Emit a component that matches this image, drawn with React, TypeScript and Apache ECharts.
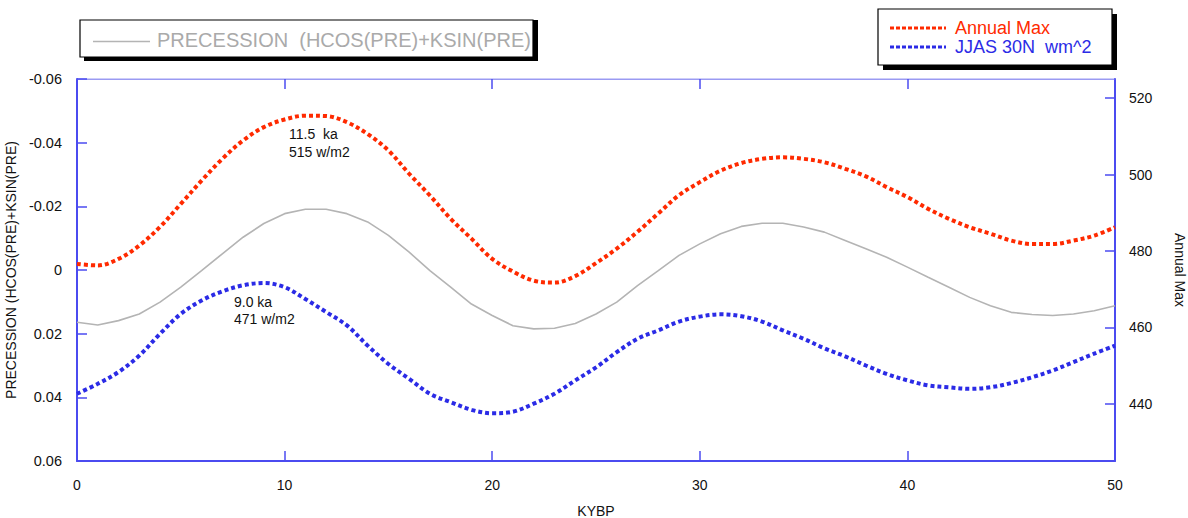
import React, { useEffect, useRef } from "react";
import * as echarts from "echarts";

const kybp = [
  0, 1, 2, 3, 4, 5, 6, 7, 8, 9, 10, 11, 12, 13, 14, 15, 16, 17, 18, 19, 20, 21, 22, 23, 24, 25,
  26, 27, 28, 29, 30, 31, 32, 33, 34, 35, 36, 37, 38, 39, 40, 41, 42, 43, 44, 45, 46, 47, 48, 49, 50,
];

const annualMax = [
  476.6, 476.2, 477.9, 481.4, 486.3, 492.3, 498.4, 504.1, 508.9, 512.4, 514.4, 515.4, 515.3, 513.7,
  510.6, 506.3, 500.2, 494.5, 488.4, 483.2, 477.9, 474.6, 472.2, 471.7, 473.4, 476.8, 480.6, 485.0,
  489.8, 494.6, 498.0, 501.0, 503.0, 504.1, 504.5, 504.1, 503.2, 501.5, 499.5, 496.7, 494.1, 491.0,
  488.4, 486.2, 484.5, 482.7, 481.8, 481.8, 482.7, 484.0, 486.2,
];

const jjas30N = [
  442.6, 445.2, 448.3, 452.6, 458.3, 463.5, 467.0, 469.4, 471.0, 471.6, 470.5, 467.4, 464.0, 460.5,
  455.2, 450.4, 446.5, 442.6, 440.4, 438.4, 437.5, 437.9, 440.0, 442.6, 446.1, 449.5, 453.5, 457.0,
  459.2, 461.5, 462.8, 463.4, 462.9, 461.5, 459.2, 457.0, 454.5, 452.4, 450.0, 447.8, 446.1, 444.8,
  444.3, 443.9, 444.3, 445.4, 446.9, 448.7, 450.9, 453.1, 455.2,
];

const precession = [
  0.0164, 0.0173, 0.0159, 0.0138, 0.0101, 0.0054, 0.0002, -0.0051, -0.0103, -0.0146, -0.0177,
  -0.0191, -0.0191, -0.0177, -0.0151, -0.0109, -0.0056, 0.0002, 0.0054, 0.0107, 0.0143, 0.0175,
  0.0185, 0.0183, 0.0168, 0.0138, 0.0101, 0.0049, 0.0002, -0.0046, -0.0082, -0.0114, -0.0137,
  -0.0147, -0.0147, -0.0135, -0.0119, -0.0093, -0.0067, -0.004, -0.0009, 0.0023, 0.0054, 0.0086,
  0.0112, 0.0133, 0.014, 0.0143, 0.0138, 0.0128, 0.0112,
];

const rightTicks = [440, 460, 480, 500, 520];

const RED = "#ff2a00";
const BLUE = "#2b2be6";
const GRAY = "#b4b4b4";
const AXIS = "#4b4bf0";
const FONT = "'Liberation Sans', Arial, Helvetica, sans-serif";

export default function App() {
  const ref = useRef<HTMLDivElement>(null);

  useEffect(() => {
    if (!ref.current) return;
    const chart = echarts.init(ref.current, undefined, { renderer: "svg" });

    const pair = (ys: number[]) => kybp.map((x, i) => [x, ys[i]]);

    const option: any = {
      animation: false,
      backgroundColor: "#ffffff",
      textStyle: { fontFamily: FONT },
      grid: {
        left: 77,
        right: 73,
        top: 79,
        bottom: 57,
        containLabel: false,
        outerBoundsMode: "none",
        show: true,
        borderColor: "#9a9af2",
        borderWidth: 1,
        backgroundColor: "transparent",
      },
      xAxis: [
        {
          type: "value",
          position: "bottom",
          min: 0,
          max: 50,
          interval: 10,
          name: "KYBP",
          nameLocation: "middle",
          nameGap: 43,
          nameTextStyle: { color: "#111", fontSize: 14, fontFamily: FONT },
          axisLine: { show: true, onZero: false, lineStyle: { color: AXIS, width: 2 } },
          axisTick: { show: true, inside: true, length: 10, lineStyle: { color: AXIS, width: 1.5 } },
          axisLabel: { color: "#111", fontSize: 14, margin: 17, fontFamily: FONT },
          splitLine: { show: false },
        },
        {
          type: "value",
          position: "top",
          min: 0,
          max: 50,
          interval: 10,
          axisLine: { show: true, onZero: false, lineStyle: { color: "#9a9af2", width: 1 } },
          axisTick: { show: true, inside: true, length: 10, lineStyle: { color: AXIS, width: 1.5 } },
          axisLabel: { show: false },
          splitLine: { show: false },
        },
      ],
      yAxis: [
        {
          type: "value",
          position: "left",
          min: -0.06,
          max: 0.06,
          interval: 0.02,
          inverse: true,
          name: "PRECESSION (HCOS(PRE)+KSIN(PRE)",
          nameLocation: "middle",
          nameGap: 54,
          nameRotate: 90,
          nameTextStyle: { color: "#111", fontSize: 14, fontFamily: FONT },
          axisLine: { show: true, onZero: false, lineStyle: { color: AXIS, width: 2 } },
          axisTick: { show: true, inside: true, length: 10, lineStyle: { color: AXIS, width: 1.5 } },
          axisLabel: {
            color: "#111",
            fontSize: 14.5,
            margin: 15,
            fontFamily: FONT,
            formatter: (v: number) => String(Math.round(v * 100) / 100),
          },
          splitLine: { show: false },
        },
        {
          type: "value",
          position: "right",
          min: 425,
          max: 525,
          name: "Annual Max",
          nameLocation: "middle",
          nameGap: 58,
          nameRotate: -90,
          nameTextStyle: { color: "#111", fontSize: 14, fontFamily: FONT },
          axisLine: { show: true, onZero: false, lineStyle: { color: AXIS, width: 2 } },
          axisTick: {
            show: true,
            inside: true,
            length: 10,
            customValues: rightTicks,
            lineStyle: { color: AXIS, width: 1.5 },
          },
          axisLabel: {
            color: "#111",
            fontSize: 14,
            margin: 14,
            fontFamily: FONT,
            customValues: rightTicks,
          },
          splitLine: { show: false },
        },
      ],
      series: [
        {
          name: "PRECESSION  (HCOS(PRE)+KSIN(PRE)",
          type: "line",
          xAxisIndex: 0,
          yAxisIndex: 0,
          data: pair(precession),
          showSymbol: false,
          smooth: false,
          lineStyle: { color: GRAY, width: 1.6 },
          z: 2,
        },
        {
          name: "Annual Max",
          type: "line",
          xAxisIndex: 0,
          yAxisIndex: 1,
          data: pair(annualMax),
          showSymbol: false,
          smooth: 0.35,
          lineStyle: { color: RED, width: 4, type: [4, 3], cap: "butt" },
          z: 3,
        },
        {
          name: "JJAS 30N  wm^2",
          type: "line",
          xAxisIndex: 0,
          yAxisIndex: 1,
          data: pair(jjas30N),
          showSymbol: false,
          smooth: 0.35,
          lineStyle: { color: BLUE, width: 4, type: [4, 3], cap: "butt" },
          z: 3,
        },
      ],
      graphic: [
        // left legend box
        { type: "rect", shape: { x: 84, y: 24, width: 453, height: 37 }, style: { fill: "#000" }, z: 10 },
        {
          type: "rect",
          shape: { x: 80, y: 20, width: 453, height: 37 },
          style: { fill: "#fff", stroke: "#000", lineWidth: 1.2 },
          z: 11,
        },
        {
          type: "line",
          shape: { x1: 93, y1: 41.5, x2: 150, y2: 41.5 },
          style: { stroke: GRAY, lineWidth: 1.6 },
          z: 12,
        },
        {
          type: "text",
          x: 157,
          y: 40,
          style: {
            text: "PRECESSION  (HCOS(PRE)+KSIN(PRE)",
            fill: "#aaaaaa",
            font: `20px ${FONT}`,
            verticalAlign: "middle",
            align: "left",
          },
          z: 12,
        },
        { type: "rect", shape: { x: 538, y: 14, width: 30, height: 52 }, style: { fill: "#fff" }, z: 13 },
        { type: "rect", shape: { x: 533, y: 20, width: 5, height: 41 }, style: { fill: "#000" }, z: 14 },
        // right legend box
        { type: "rect", shape: { x: 883, y: 14, width: 234, height: 56 }, style: { fill: "#000" }, z: 10 },
        {
          type: "rect",
          shape: { x: 878, y: 9, width: 234, height: 56 },
          style: { fill: "#fff", stroke: "#000", lineWidth: 1.2 },
          z: 11,
        },
        {
          type: "line",
          shape: { x1: 890, y1: 28, x2: 946, y2: 28 },
          style: { stroke: RED, lineWidth: 3, lineDash: [4, 2] },
          z: 12,
        },
        {
          type: "text",
          x: 955,
          y: 28,
          style: { text: "Annual Max", fill: RED, font: `18px ${FONT}`, verticalAlign: "middle" },
          z: 12,
        },
        {
          type: "line",
          shape: { x1: 890, y1: 47, x2: 946, y2: 47 },
          style: { stroke: BLUE, lineWidth: 3, lineDash: [4, 2] },
          z: 12,
        },
        {
          type: "text",
          x: 955,
          y: 47,
          style: { text: "JJAS 30N  wm^2", fill: BLUE, font: `18px ${FONT}`, verticalAlign: "middle" },
          z: 12,
        },
        // annotations
        {
          type: "text",
          x: 289,
          y: 134,
          style: { text: "11.5  ka", fill: "#111", font: `14px ${FONT}`, verticalAlign: "middle" },
          z: 12,
        },
        {
          type: "text",
          x: 289,
          y: 152,
          style: { text: "515 w/m2", fill: "#111", font: `14px ${FONT}`, verticalAlign: "middle" },
          z: 12,
        },
        {
          type: "text",
          x: 234,
          y: 302,
          style: { text: "9.0 ka", fill: "#111", font: `14px ${FONT}`, verticalAlign: "middle" },
          z: 12,
        },
        {
          type: "text",
          x: 234,
          y: 319,
          style: { text: "471 w/m2", fill: "#111", font: `14px ${FONT}`, verticalAlign: "middle" },
          z: 12,
        },
      ],
    };

    chart.setOption(option);
    return () => chart.dispose();
  }, []);

  return (
    <div
      ref={ref}
      style={{ position: "fixed", left: 0, top: 0, width: 1188, height: 518, background: "#fff" }}
    />
  );
}
